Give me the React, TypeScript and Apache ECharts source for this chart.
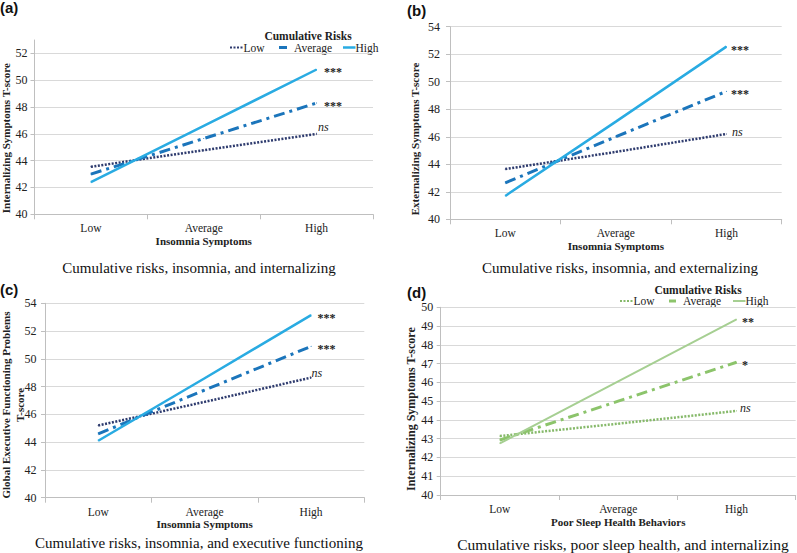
import React, { useEffect, useRef } from "react";
import * as echarts from "echarts";

const categories = ["Low", "Average", "High"];
const riskNames = ["Low", "Average", "High"];

// Panel (a): internalizing by insomnia
const aLow = [43.55, 44.78, 46.0];
const aAvg = [43.0, 45.65, 48.3];
const aHigh = [42.4, 46.6, 50.8];
// Panel (b): externalizing by insomnia
const bLow = [43.65, 44.9, 46.2];
const bAvg = [42.65, 46.0, 49.3];
const bHigh = [41.7, 47.1, 52.55];
// Panel (c): executive functioning by insomnia
const cLow = [45.2, 46.9, 48.65];
const cAvg = [44.6, 47.75, 50.9];
const cHigh = [44.1, 48.6, 53.15];
// Panel (d): internalizing by poor sleep health
const dLow = [43.14, 43.8, 44.48];
const dAvg = [42.93, 45.0, 47.07];
const dHigh = [42.75, 46.05, 49.36];

const sigA = ["ns", "***", "***"];
const sigB = ["ns", "***", "***"];
const sigC = ["ns", "***", "***"];
const sigD = ["ns", "*", "**"];

const captions = [
  "Cumulative risks, insomnia, and internalizing",
  "Cumulative risks, insomnia, and externalizing",
  "Cumulative risks, insomnia, and executive functioning",
  "Cumulative risks, poor sleep health, and internalizing",
];
const panelLabels = ["(a)", "(b)", "(c)", "(d)"];
const yNames = [
  "Internalizing Symptoms T-score",
  "Externalizing Symptoms T-score",
  "Global Executive Functioning Problems\nT-score",
  "Internalizing Symptoms T-score",
];
const xNames = ["Insomnia Symptoms", "Insomnia Symptoms", "Insomnia Symptoms", "Poor Sleep Health Behaviors"];
const legendTitle = "Cumulative Risks";

const SERIF = "'Liberation Serif', 'Times New Roman', serif";
const SANS = "'Liberation Sans', Arial, sans-serif";
const TXT = "#222";
const AXIS = "#bfbfbf";
const GRIDC = "#d9d9d9";

const BLUES = { low: "#2e3b6e", avg: "#1b75bb", high: "#29abe2" };
const GREENS = { low: "#86b96a", avg: "#8cc46b", high: "#a6cf92" };
const DOT = [2, 1.5];
const DASHDOT = [11, 5, 3, 5];

export default function App() {
  const ref = useRef<HTMLDivElement>(null);
  useEffect(() => {
    if (!ref.current) return;
    const chart = echarts.init(ref.current, null, { renderer: "svg" });

    const grids = [
      { left: 34.5, top: 40, width: 338.5, height: 174.3 },
      { left: 450, top: 26.7, width: 331.7, height: 192.6 },
      { left: 45, top: 303.3, width: 319.3, height: 194.4 },
      { left: 440.7, top: 307.3, width: 355, height: 187.7 },
    ];
    const yCfg = [
      { min: 40, max: 53, interval: 2, margin: 7, gap: 22, pr: 22 },
      { min: 40, max: 54, interval: 2, margin: 10, gap: 28, pr: 32 },
      { min: 40, max: 54, interval: 2, margin: 8.5, gap: 18.5, pr: 9 },
      { min: 40, max: 50, interval: 1, margin: 7.5, gap: 22.5, pr: 16 },
    ];

    const xAxis = grids.map((_, i) => ({
      type: "category",
      gridIndex: i,
      data: categories,
      boundaryGap: true,
      axisLine: { show: true, lineStyle: { color: AXIS, width: 1 } },
      axisTick: { show: true, length: 5, lineStyle: { color: AXIS } },
      axisLabel: { fontFamily: SERIF, fontSize: 11.5, color: TXT, margin: 8 },
      name: xNames[i],
      nameLocation: "middle",
      nameGap: 21,
      nameMoveOverlap: false,
      nameTextStyle: { fontFamily: SERIF, fontSize: 11, fontWeight: "bold", color: TXT },
      splitLine: { show: false },
    }));

    const yAxis = yCfg.map((c, i) => ({
      type: "value",
      gridIndex: i,
      min: c.min,
      max: c.max,
      interval: c.interval,
      axisLine: { show: true, lineStyle: { color: AXIS, width: 1 } },
      axisTick: { show: true, length: 4, lineStyle: { color: AXIS } },
      axisLabel: {
        fontFamily: SERIF,
        fontSize: 12,
        color: TXT,
        margin: c.margin,
        showMaxLabel: i === 0 ? false : true,
      },
      splitLine: { show: true, showMaxLine: i === 0 ? false : true, lineStyle: { color: GRIDC, width: 1 } },
      name: yNames[i],
      nameLocation: "middle",
      nameGap: c.gap,
      nameMoveOverlap: false,
      nameTextStyle: {
        fontFamily: SERIF,
        fontSize: i === 3 ? 12 : 11,
        fontWeight: "bold",
        color: TXT,
        lineHeight: 14,
        padding: [0, c.pr, 0, 0],
      },
    }));

    const labelCfg = [
      { ns: [0, -7], nsD: 1, st: [0, 3], stD: 7 },
      { ns: [0, -2], nsD: 5, st: [0, 3], stD: 4 },
      { ns: [0, -5], nsD: 0, st: [0, 3], stD: 6 },
      { ns: [0, -3], nsD: 3, st: [0, 3], stD: 5 },
    ];

    const mk = (
      gi: number,
      name: string,
      data: number[],
      sig: string,
      color: string,
      width: number,
      type: any
    ) => {
      const lc = labelCfg[gi];
      const isNs = sig === "ns";
      return {
        type: "line",
        name,
        color,
        xAxisIndex: gi,
        yAxisIndex: gi,
        symbol: "circle",
        symbolSize: 1,
        showSymbol: true,
        itemStyle: { color },
        lineStyle: { color, width, type, cap: "butt" },
        label: { show: false },
        emphasis: { disabled: true },
        data: data.map((v, k) =>
          k === data.length - 1
            ? {
                value: v,
                label: {
                  show: true,
                  position: "right",
                  formatter: sig,
                  distance: isNs ? lc.nsD : lc.stD,
                  offset: isNs ? lc.ns : lc.st,
                  fontFamily: SERIF,
                  fontSize: 12,
                  fontStyle: isNs ? "italic" : "normal",
                  fontWeight: isNs ? "normal" : "bold",
                  color: TXT,
                },
              }
            : v
        ),
      };
    };

    const series = [
      mk(0, riskNames[0], aLow, sigA[0], BLUES.low, 2.5, DOT),
      mk(0, riskNames[1], aAvg, sigA[1], BLUES.avg, 3, DASHDOT),
      mk(0, riskNames[2], aHigh, sigA[2], BLUES.high, 2.5, "solid"),
      mk(1, riskNames[0], bLow, sigB[0], BLUES.low, 2.5, DOT),
      mk(1, riskNames[1], bAvg, sigB[1], BLUES.avg, 3, DASHDOT),
      mk(1, riskNames[2], bHigh, sigB[2], BLUES.high, 2.5, "solid"),
      mk(2, riskNames[0], cLow, sigC[0], BLUES.low, 2.5, DOT),
      mk(2, riskNames[1], cAvg, sigC[1], BLUES.avg, 3, DASHDOT),
      mk(2, riskNames[2], cHigh, sigC[2], BLUES.high, 2.5, "solid"),
      mk(3, riskNames[0], dLow, sigD[0], GREENS.low, 2.5, DOT),
      mk(3, riskNames[1], dAvg, sigD[1], GREENS.avg, 3, DASHDOT),
      mk(3, riskNames[2], dHigh, sigD[2], GREENS.high, 2, "solid"),
    ];

    const capPos = [
      [199, 268],
      [620, 268],
      [199, 543],
      [623, 544],
    ];
    const panelPos = [
      [0, 0],
      [407, 3],
      [0, 282],
      [407, 285],
    ];

    const graphic: any[] = [];
    captions.forEach((t, i) => {
      graphic.push({
        type: "text",
        x: capPos[i][0],
        y: capPos[i][1],
        silent: true,
        style: {
          text: t,
          align: "center",
          verticalAlign: "middle",
          fontFamily: SERIF,
          fontSize: i === 3 ? 15.5 : 15,
          fill: "#111",
        },
      });
    });
    panelLabels.forEach((t, i) => {
      graphic.push({
        type: "text",
        x: panelPos[i][0],
        y: panelPos[i][1],
        silent: true,
        style: {
          text: t,
          align: "left",
          verticalAlign: "top",
          fontFamily: SANS,
          fontSize: 15,
          fontWeight: "bold",
          fill: "#111",
        },
      });
    });

    const legends = [
      {
        title: [308, 36],
        rowY: 47.5,
        colors: BLUES,
        items: [
          { x1: 230, x2: 243, tx: 243.5, w: 2.2, dash: DOT, c: "low" },
          { x1: 279, x2: 287, tx: 294, w: 3, dash: null, c: "avg" },
          { x1: 343, x2: 355.5, tx: 355.5, w: 2.5, dash: null, c: "high" },
        ],
      },
      {
        title: [698, 290],
        rowY: 301,
        colors: GREENS,
        items: [
          { x1: 620, x2: 633, tx: 633.5, w: 2.2, dash: DOT, c: "low" },
          { x1: 669, x2: 676, tx: 683, w: 3, dash: null, c: "avg" },
          { x1: 733, x2: 745.5, tx: 745.5, w: 2, dash: null, c: "high" },
        ],
      },
    ];
    legends.forEach((lg) => {
      graphic.push({
        type: "text",
        x: lg.title[0],
        y: lg.title[1],
        silent: true,
        style: {
          text: legendTitle,
          align: "center",
          verticalAlign: "middle",
          fontFamily: SERIF,
          fontSize: 11.5,
          fontWeight: "bold",
          fill: TXT,
        },
      });
      lg.items.forEach((it, k) => {
        graphic.push({
          type: "line",
          silent: true,
          shape: { x1: it.x1, y1: lg.rowY, x2: it.x2, y2: lg.rowY },
          style: {
            stroke: (lg.colors as any)[it.c],
            lineWidth: it.w,
            lineDash: it.dash || null,
          },
        });
        graphic.push({
          type: "text",
          x: it.tx,
          y: lg.rowY,
          silent: true,
          style: {
            text: riskNames[k],
            align: "left",
            verticalAlign: "middle",
            fontFamily: SERIF,
            fontSize: 11.5,
            fill: TXT,
          },
        });
      });
    });

    chart.setOption({
      animation: false,
      backgroundColor: "#ffffff",
      grid: grids.map((g) => ({ ...g, containLabel: false, outerBoundsMode: "none" })),
      xAxis,
      yAxis,
      series,
      graphic,
    } as any);

    return () => chart.dispose();
  }, []);

  return (
    <div
      ref={ref}
      style={{ position: "absolute", left: 0, top: 0, width: 797, height: 553, background: "#fff" }}
    />
  );
}
